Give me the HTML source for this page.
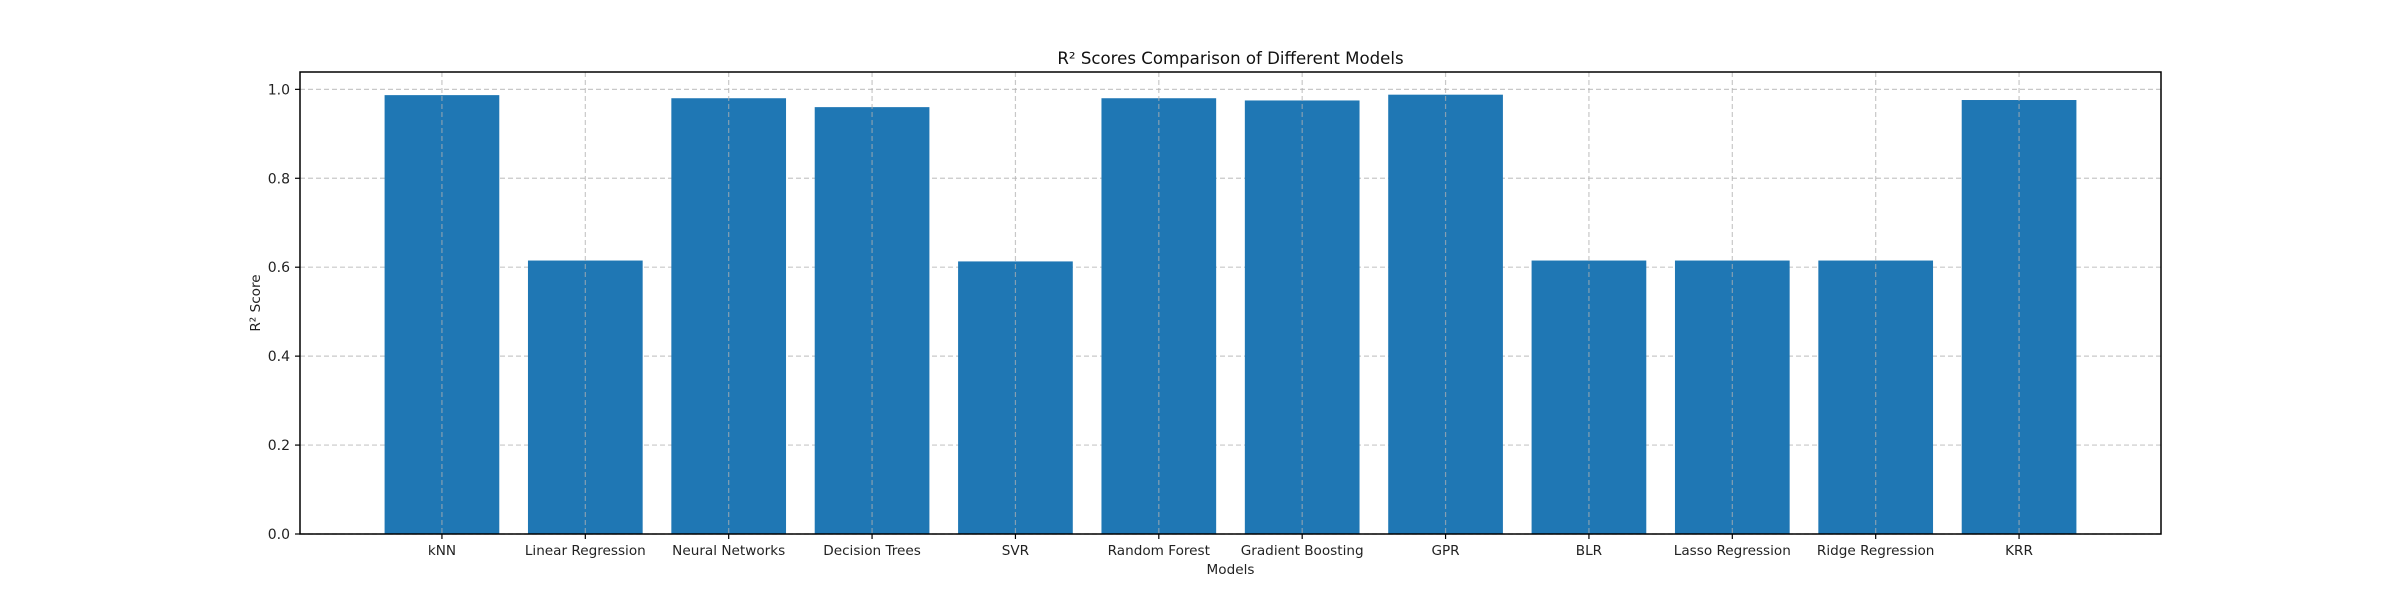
<!DOCTYPE html>
<html><head><meta charset="utf-8"><style>
html,body{margin:0;padding:0;background:#fff}
svg{display:block;font-family:"DejaVu Sans","Liberation Sans",sans-serif}
</style></head><body>
<svg id="chart" width="2400" height="600" viewBox="0 0 2400 600">
<g id="grid"></g><g id="bars"></g><g id="axes"></g>
</svg>
<script>
const categories=["kNN","Linear Regression","Neural Networks","Decision Trees","SVR","Random Forest","Gradient Boosting","GPR","BLR","Lasso Regression","Ridge Regression","KRR"];
const scores=[0.987,0.615,0.980,0.960,0.613,0.980,0.975,0.988,0.615,0.615,0.615,0.976];
const yTicks=[0.0,0.2,0.4,0.6,0.8,1.0];
const yTickLabels=["0.0","0.2","0.4","0.6","0.8","1.0"];
const L=300,R=2161,T=72,B=534;
const xmin=-0.99,xmax=categories.length-1+0.99;
const ymin=0,ymax=1.039;
const xs=v=>L+(v-xmin)/(xmax-xmin)*(R-L);
const ys=v=>B-(v-ymin)/(ymax-ymin)*(B-T);
const NS="http://www.w3.org/2000/svg";
function mk(tag,attrs,parent){const e=document.createElementNS(NS,tag);for(const k in attrs)e.setAttribute(k,attrs[k]);parent.appendChild(e);return e;}
const grid=document.getElementById('grid'),bars=document.getElementById('bars'),axes=document.getElementById('axes'),svg=document.getElementById('chart');
yTicks.forEach((t,i)=>{
  const y=ys(t);
  const g=mk('line',{x1:L,x2:R,y1:y,y2:y,stroke:'#b0b0b0','stroke-width':1.2,'stroke-dasharray':'5,3','stroke-opacity':0.7},grid);
  
  
  const tk=mk('line',{x1:L-5,x2:L,y1:y,y2:y,stroke:'#000','stroke-width':1.2},axes);
  
  
  const tx=mk('text',{x:L-10,y:y+5,'text-anchor':'end','font-size':14,fill:'#222'},axes);
  tx.textContent=yTickLabels[i];
  
  
});
const bw=0.8*(R-L)/(xmax-xmin);
categories.forEach((c,i)=>{
  const cx=xs(i);
  const r=mk('rect',{x:cx-bw/2,y:ys(scores[i]),width:bw,height:ys(0)-ys(scores[i]),fill:'#1f77b4'},bars);
  
  
  const g=mk('line',{x1:cx,x2:cx,y1:T,y2:B,stroke:'#b0b0b0','stroke-width':1.2,'stroke-dasharray':'5,3','stroke-opacity':0.7},axes);
  
  
  const tk=mk('line',{x1:cx,x2:cx,y1:B,y2:B+5,stroke:'#000','stroke-width':1.2},axes);
  
  
  const tx=mk('text',{x:cx,y:555,'text-anchor':'middle','font-size':13.6,fill:'#222'},axes);
  tx.textContent=c;
  
  
});
const fr=mk('rect',{x:L,y:T,width:R-L,height:B-T,fill:'none',stroke:'#000','stroke-width':1.5},axes);


const ti=mk('text',{x:(L+R)/2,y:64,'text-anchor':'middle','font-size':16.6,fill:'#111'},svg);
ti.textContent='R² Scores Comparison of Different Models';


const xl=mk('text',{x:(L+R)/2,y:574,'text-anchor':'middle','font-size':13.6,fill:'#222'},svg);
xl.textContent='Models';


const yl=mk('text',{x:0,y:0,'text-anchor':'middle','font-size':13.6,fill:'#222',transform:'translate(260,'+((T+B)/2)+') rotate(-90)'},svg);
yl.textContent='R² Score';


</script>
</body></html>
